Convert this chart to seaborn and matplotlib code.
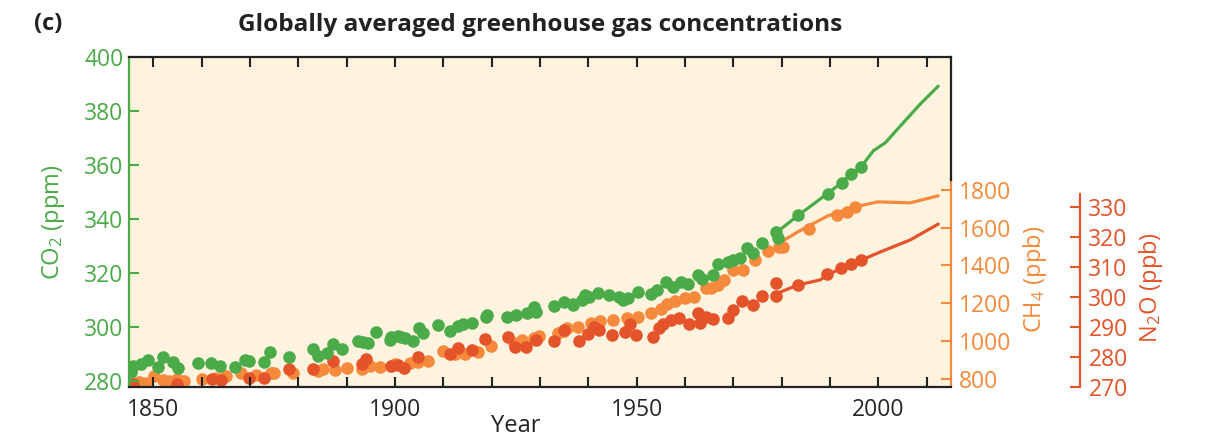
import numpy as np
import matplotlib
matplotlib.use('Agg')
import matplotlib.pyplot as plt
import seaborn as sns

# ice core / firn values (points) and instrumental records (lines)
co2_year = [1845.5, 1845.9, 1847.4, 1849.0, 1851.1, 1852.1, 1854.0, 1855.2, 1859.2, 1861.9,
            1863.9, 1867.0, 1869.1, 1869.9, 1873.0, 1874.1, 1878.0, 1883.0, 1884.2, 1886.0,
            1887.1, 1889.0, 1892.3, 1893.5, 1894.4, 1896.2, 1898.9, 1899.1, 1900.6, 1901.2,
            1902.2, 1903.8, 1904.9, 1905.9, 1909.0, 1911.5, 1913.0, 1914.0, 1916.0, 1918.9,
            1919.1, 1923.3, 1925.1, 1927.4, 1928.7, 1929.1, 1933.0, 1934.9, 1936.8, 1936.9,
            1938.8, 1939.4, 1940.1, 1942.1, 1944.2, 1946.3, 1947.1, 1948.3, 1950.2, 1952.9,
            1954.3, 1956.0, 1957.6, 1959.1, 1960.7, 1962.8, 1963.6, 1965.9, 1966.9, 1969.0,
            1970.0, 1971.5, 1972.9, 1974.0, 1976.0, 1978.9, 1979.3, 1983.4, 1989.6, 1992.4,
            1994.4, 1996.5]
co2_ppm = [283.4, 285.6, 286.3, 287.8, 285.2, 288.9, 287.1, 284.9, 286.7, 286.7,
           285.6, 285.2, 287.8, 287.5, 287.1, 290.8, 288.9, 291.9, 289.3, 290.4,
           293.7, 291.9, 294.8, 294.5, 294.1, 298.2, 295.2, 296.3, 296.7, 296.3,
           295.9, 294.8, 299.6, 297.8, 300.7, 298.5, 300.4, 301.1, 301.5, 303.7,
           304.4, 303.7, 304.4, 305.2, 307.4, 305.5, 307.7, 309.2, 308.5, 308.1,
           310.0, 311.8, 311.1, 312.5, 311.8, 311.1, 310.0, 310.7, 312.9, 312.2,
           313.7, 316.6, 314.8, 316.6, 315.9, 319.2, 317.7, 319.2, 323.2, 324.0,
           324.7, 325.5, 329.2, 327.3, 331.0, 335.1, 332.9, 341.3, 349.4, 353.4,
           356.8, 359.4]
co2_line_year = [1979.0, 1983.4, 1989.5, 1992.4, 1994.4, 1996.5, 1999.0, 2001.5, 2004.6, 2008.7, 2012.4]
co2_line_ppm = [335.1, 341.3, 349.4, 353.4, 356.8, 359.4, 365.3, 368.3, 374.5, 382.6, 389.2]

ch4_year = [1847.0, 1848.6, 1850.1, 1852.1, 1853.2, 1855.0, 1856.3, 1860.2, 1862.9, 1865.0,
            1868.1, 1871.2, 1874.3, 1874.9, 1879.0, 1884.0, 1885.2, 1887.7, 1890.2, 1893.3,
            1894.9, 1897.0, 1900.1, 1903.2, 1904.7, 1904.9, 1906.9, 1910.0, 1912.5, 1914.6,
            1917.1, 1919.8, 1924.6, 1926.2, 1928.7, 1929.9, 1933.8, 1934.9, 1935.7, 1937.8,
            1940.5, 1942.5, 1945.2, 1948.1, 1950.4, 1952.9, 1955.0, 1956.4, 1958.0, 1960.1,
            1961.8, 1964.3, 1965.3, 1966.9, 1968.0, 1970.0, 1972.1, 1974.6, 1977.1, 1979.4,
            1980.2, 1985.7, 1991.5, 1993.6, 1995.2]
ch4_ppb = [782, 777, 814, 793, 788, 798, 788, 798, 804, 814,
           830, 820, 830, 830, 830, 841, 851, 846, 857, 851,
           867, 862, 878, 883, 889, 899, 894, 947, 931, 931,
           942, 973, 989, 1005, 1016, 1027, 1042, 1053, 1069, 1074,
           1095, 1106, 1111, 1122, 1127, 1149, 1170, 1196, 1212, 1228,
           1233, 1281, 1281, 1297, 1324, 1377, 1377, 1430, 1477, 1499,
           1499, 1594, 1668, 1684, 1711]
ch4_line_year = [1979.6, 1983.5, 1988.0, 1989.6, 1995.2, 1999.9, 2006.6, 2012.4]
ch4_line_ppb = [1520, 1580, 1642, 1663, 1711, 1737, 1732, 1769]

n2o_year = [1845.9, 1855.0, 1862.1, 1864.1, 1869.9, 1873.0, 1878.0, 1883.0, 1887.1, 1893.3,
            1894.1, 1899.1, 1900.7, 1901.8, 1904.7, 1911.5, 1913.1, 1916.0, 1918.7, 1923.5,
            1924.9, 1927.2, 1929.1, 1933.0, 1934.9, 1938.0, 1939.9, 1941.1, 1942.2, 1945.0,
            1947.7, 1948.7, 1949.8, 1953.3, 1954.6, 1955.4, 1957.1, 1958.7, 1960.8, 1962.8,
            1963.2, 1964.3, 1965.9, 1969.0, 1970.0, 1971.9, 1974.0, 1976.0, 1978.9, 1978.9,
            1983.4, 1989.5, 1992.3, 1994.4, 1996.5]
n2o_ppb = [270.9, 270.9, 272.6, 272.2, 272.9, 272.9, 275.9, 275.9, 278.6, 277.6,
           279.2, 276.9, 277.2, 276.2, 279.9, 280.9, 282.9, 282.2, 285.9, 286.6,
           283.2, 283.2, 285.6, 285.2, 288.9, 285.2, 287.6, 289.9, 288.9, 287.2,
           288.2, 290.9, 287.2, 286.6, 289.6, 290.9, 292.2, 292.9, 290.9, 294.6,
           291.2, 293.2, 292.6, 292.9, 295.6, 298.6, 297.2, 300.2, 304.6, 300.2,
           303.9, 307.6, 309.6, 310.9, 312.2]
n2o_line_year = [1978.9, 1983.4, 1988.0, 1989.5, 1996.5, 2000.4, 2006.6, 2012.4]
n2o_line_ppb = [301.0, 303.9, 305.6, 307.4, 312.2, 314.9, 318.9, 324.2]

GREEN = '#4bab48'
ORANGE = '#f58a3c'
RED = '#e4532a'
BG = '#fdf3df'

sns.set_style('ticks')
plt.rcParams['font.family'] = ['Open Sans', 'DejaVu Sans']
plt.rcParams['mathtext.default'] = 'regular'

fig = plt.figure(figsize=(12.09, 4.46), dpi=100)
ax = fig.add_axes([0.1067, 0.1330, 0.6797, 0.7392])
ax_ch4 = ax.twinx()
ax_n2o = ax.twinx()

# background lives on the lowest axes, CO2 drawn on top
ax_ch4.set_zorder(1)
ax_n2o.set_zorder(2)
ax.set_zorder(3)
ax.patch.set_visible(False)
ax_ch4.patch.set_visible(True)
ax_ch4.patch.set_facecolor(BG)

ms = 82
sns.scatterplot(x=ch4_year, y=ch4_ppb, color=ORANGE, s=ms, linewidth=0, ax=ax_ch4)
sns.lineplot(x=ch4_line_year, y=ch4_line_ppb, color=ORANGE, lw=2.3, ax=ax_ch4)
sns.scatterplot(x=n2o_year, y=n2o_ppb, color=RED, s=ms, linewidth=0, ax=ax_n2o)
sns.lineplot(x=n2o_line_year, y=n2o_line_ppb, color=RED, lw=2.3, ax=ax_n2o)
sns.scatterplot(x=co2_year, y=co2_ppm, color=GREEN, s=ms, linewidth=0, ax=ax)
sns.lineplot(x=co2_line_year, y=co2_line_ppm, color=GREEN, lw=2.3, ax=ax)

ax.set_xlim(1845, 2015)
ax.set_ylim(277.9, 400)
ax_ch4.set_ylim(757.6, 2504.8)
ax_n2o.set_ylim(270, 379.9)

tick_fs = 16.5
lab_fs = 17

# CO2 axis
ax.set_xticks([1850, 1900, 1950, 2000])
ax.set_xticks(np.arange(1850, 2011, 10), minor=True)
ax.set_yticks(np.arange(280, 401, 20))
ax.tick_params(axis='x', which='both', direction='in', top=True, bottom=True,
               length=7, width=1.5, color='#222222', labelsize=tick_fs, pad=8)
ax.tick_params(axis='y', direction='in', length=7, width=1.5, colors=GREEN,
               labelsize=tick_fs, pad=4)
for s in ['top', 'bottom']:
    ax.spines[s].set_color('#222222')
    ax.spines[s].set_linewidth(1.6)
ax.spines['left'].set_color(GREEN)
ax.spines['left'].set_linewidth(1.6)
ax.spines['right'].set_color('#222222')
ax.spines['right'].set_linewidth(1.6)
ax.spines['right'].set_bounds(354.5, 400)
ax.set_ylabel('CO$_2$ (ppm)', color=GREEN, fontsize=lab_fs, labelpad=12)
ax.set_xlabel('Year', fontsize=lab_fs, color='#222222')
ax.xaxis.set_label_coords(0.471, -0.083)

# CH4 axis
for s in ['top', 'bottom', 'left']:
    ax_ch4.spines[s].set_visible(False)
    ax_n2o.spines[s].set_visible(False)
ax_ch4.spines['right'].set_color(ORANGE)
ax_ch4.spines['right'].set_linewidth(1.6)
ax_ch4.spines['right'].set_bounds(757.6, 1857)
ax_ch4.set_yticks(np.arange(800, 1801, 200))
ax_ch4.tick_params(axis='y', direction='in', length=7, width=1.5, colors=ORANGE,
                   labelsize=tick_fs, pad=6)
ax_ch4.set_ylabel('CH$_4$ (ppb)', color=ORANGE, fontsize=lab_fs)
ax_ch4.yaxis.set_label_coords(1.0855, 0.325)

# N2O axis, pushed out to the right
ax_n2o.spines['right'].set_position(('axes', 1 + 129.3 / 821.7))
ax_n2o.spines['right'].set_color(RED)
ax_n2o.spines['right'].set_linewidth(1.6)
ax_n2o.spines['right'].set_bounds(270, 334.1)
ax_n2o.set_yticks(np.arange(270, 331, 10))
ax_n2o.tick_params(axis='y', direction='in', length=7, width=1.5, colors=RED,
                   labelsize=tick_fs, pad=6)
ax_n2o.set_ylabel('N$_2$O (ppb)', color=RED, fontsize=lab_fs)
ax_n2o.yaxis.set_label_coords(1.227, 0.30)

fig.text(0.4466, 0.944, 'Globally averaged greenhouse gas concentrations',
         ha='center', va='center', fontsize=17.6, fontweight='bold', color='#222222')
fig.text(0.040, 0.946, '(c)', ha='center', va='center', fontsize=17,
         fontweight='bold', color='#222222')

fig.savefig('out.png', dpi=100)
